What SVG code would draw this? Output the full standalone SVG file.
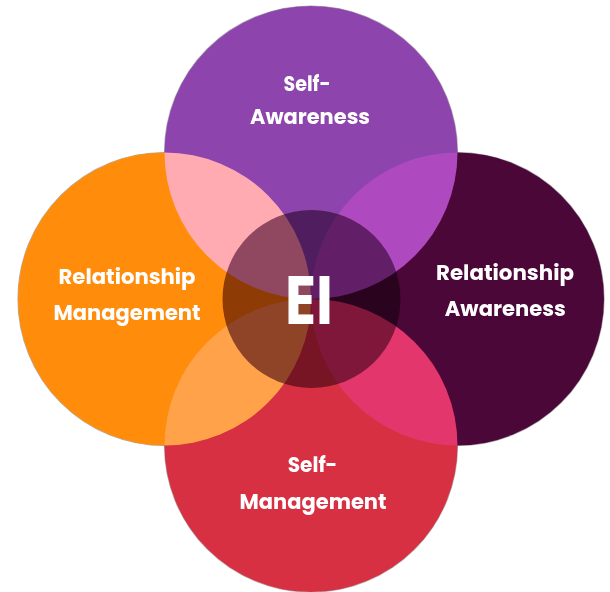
<svg xmlns="http://www.w3.org/2000/svg" width="610" height="592" viewBox="0 0 610 592">
  <style>
    .lbl { font-family: "Poppins", "Open Sans", "Liberation Sans", sans-serif; font-weight: 700; font-size: 20.5px; fill: #ffffff; text-anchor: middle; }
    .ei { font-family: "Poppins", "Open Sans", "Liberation Sans", sans-serif; font-weight: 700; font-size: 68px; fill: #ffffff; text-anchor: middle; }
    .petal { mix-blend-mode: screen; }
    .core { mix-blend-mode: multiply; }
    .outline { fill: none; stroke: #8a8a8a; stroke-width: 1.2; stroke-opacity: 0.7; }
  </style>
  <rect width="610" height="592" fill="#ffffff"/>
  <g id="outlines">
    <circle class="outline" cx="311" cy="152.5" r="146.5"/>
    <circle class="outline" cx="164.5" cy="299" r="146.5"/>
    <circle class="outline" cx="457.5" cy="299" r="146.5"/>
    <circle class="outline" cx="311" cy="445.5" r="146.5"/>
  </g>
  <g id="connectors"/>
  <g style="isolation:isolate">
    <g id="self-awareness" class="petal">
      <circle cx="311" cy="152.5" r="146.5" fill="#8E44AD"/>
    </g>
    <g id="relationship-management" class="petal">
      <circle cx="164.5" cy="299" r="146.5" fill="#FF8C0B"/>
    </g>
    <g id="relationship-awareness" class="petal">
      <circle cx="457.5" cy="299" r="146.5" fill="#4A0738"/>
    </g>
    <g id="self-management" class="petal">
      <circle cx="311" cy="445.5" r="146.5" fill="#D63042"/>
    </g>
  </g>
  <g id="ei">
    <circle class="core" cx="311.5" cy="299" r="89" fill="#8F6B8A"/>
    <text class="ei" x="309" y="324" textLength="48" lengthAdjust="spacingAndGlyphs">EI</text>
  </g>
  <g id="labels">
    <text class="lbl" x="307" y="91" textLength="47" lengthAdjust="spacingAndGlyphs">Self-</text>
    <text class="lbl" x="310" y="123.5" textLength="120" lengthAdjust="spacingAndGlyphs">Awareness</text>
    <text class="lbl" x="127" y="283.5" textLength="137" lengthAdjust="spacingAndGlyphs">Relationship</text>
    <text class="lbl" x="127" y="319.5" textLength="147" lengthAdjust="spacingAndGlyphs">Management</text>
    <text class="lbl" x="505" y="279.5" textLength="138" lengthAdjust="spacingAndGlyphs">Relationship</text>
    <text class="lbl" x="505.3" y="315.7" textLength="121" lengthAdjust="spacingAndGlyphs">Awareness</text>
    <text class="lbl" x="312.5" y="471.7" textLength="49.6" lengthAdjust="spacingAndGlyphs">Self-</text>
    <text class="lbl" x="313" y="509.3" textLength="147" lengthAdjust="spacingAndGlyphs">Management</text>
  </g>
</svg>
